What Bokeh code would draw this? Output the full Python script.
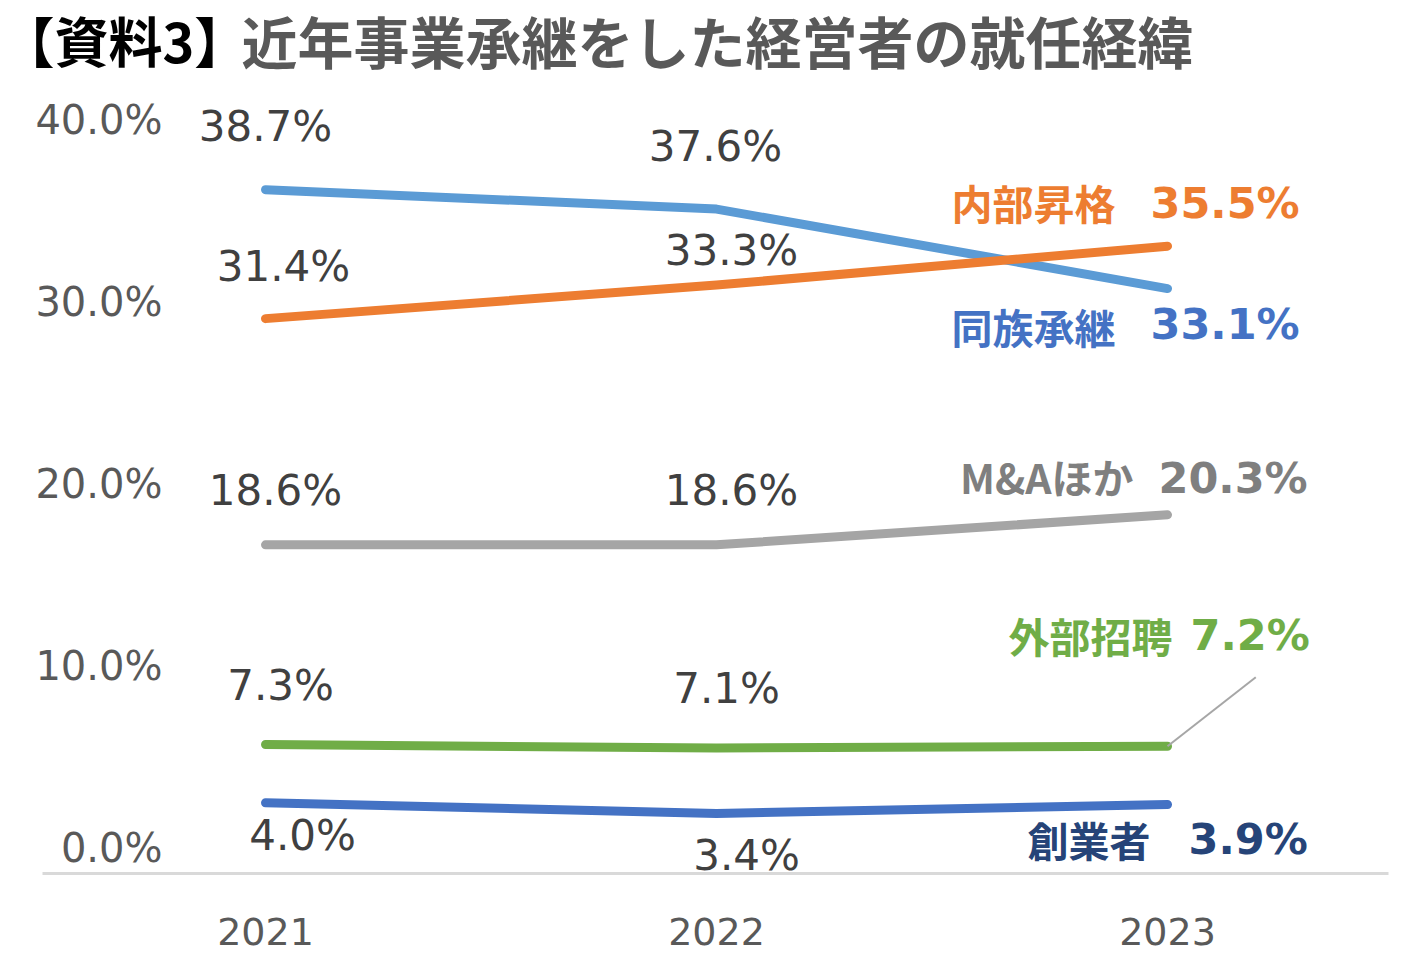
from bokeh.plotting import figure
from bokeh.layouts import column
from bokeh.models import Range1d, LinearAxis, FixedTicker, ColumnDataSource, CustomJSTickFormatter
from bokeh.core.properties import value
from bokeh.embed import file_html
from bokeh.resources import INLINE

# ---------------- data ----------------
years = [2021, 2022, 2023]
dozoku = [38.7, 37.6, 33.1]    # 同族承継
naibu = [31.4, 33.3, 35.5]     # 内部昇格
ma_hoka = [18.6, 18.6, 20.3]   # M&Aほか
gaibu = [7.3, 7.1, 7.2]        # 外部招聘
sogyo = [4.0, 3.4, 3.9]        # 創業者
series_names = ["同族承継", "内部昇格", "M&Aほか", "外部招聘", "創業者"]
y_ticks = [0, 10, 20, 30, 40]
title_tag = "【資料3】"
title_text = "近年事業承継をした経営者の就任経緯"

series_values = [dozoku, naibu, ma_hoka, gaibu, sogyo]

# ---------------- styles ----------------
line_colors = ["#5B9BD5", "#ED7D31", "#A5A5A5", "#70AD47", "#4472C4"]
name_colors = ["#4472C4", "#ED7D31", "#7F7F7F", "#70AD47", "#264478"]
# pixel offsets of the data labels (2021, 2022) from their points
lab_dx = [[0, -1], [18, 15], [10, 15], [15, 10], [37, 30]]
lab_dy = [[-63, -63], [-52, -35], [-54, -54], [-59, -60], [33, 42]]
# end labels: name (right aligned) and value (left aligned)
name_dx = [-52, -52, -34, 5, -17]
name_dy = [37, -44, -39, -111, 34]
num_dx = [-17, -17, -9, 23, 21]
num_dy = [35, -43, -37, -111, 34]

W = 1400
TH = 90

# ---------------- title strip ----------------
t = figure(frame_width=W, frame_height=TH, x_range=Range1d(0, W), y_range=Range1d(0, TH),
           title=None, output_backend="svg", toolbar_location=None,
           x_axis_location=None, y_axis_location=None,
           min_border_left=0, min_border_right=0, min_border_top=0, min_border_bottom=0)
t.frame_align = False
t.outline_line_color = None
t.xgrid.visible = False
t.ygrid.visible = False
t.text(x=[0], y=[TH - 38.5], text=[title_tag], text_font=value("Noto Sans CJK JP"),
       text_font_style="bold", text_font_size="54px", text_color="#000000",
       text_align="left", text_baseline="middle")
t.text(x=[241], y=[TH - 38.5], text=[title_text], text_font=value("Noto Sans CJK JP"),
       text_font_style="bold", text_font_size="56px", text_color="#595959",
       text_align="left", text_baseline="middle")

# ---------------- main chart ----------------
p = figure(width=W, height=870,
           x_range=Range1d(2020.5055, 2023.49), y_range=Range1d(0, 44.31),
           output_backend="svg", toolbar_location=None, y_axis_location=None,
           min_border_left=42, min_border_right=12, min_border_top=0, min_border_bottom=87)
p.frame_align = False
p.outline_line_color = None
p.xgrid.visible = False
p.ygrid.visible = False
p.background_fill_color = "white"
p.border_fill_color = "white"

xa = p.xaxis[0]
xa.ticker = FixedTicker(ticks=years)
xa.formatter = CustomJSTickFormatter(code="return tick.toFixed(0)")
xa.axis_line_color = "#D9D9D9"
xa.axis_line_width = 3
xa.major_tick_line_color = None
xa.minor_tick_line_color = None
xa.major_tick_in = 0
xa.major_tick_out = 0
xa.major_label_standoff = 44
xa.major_label_text_font = "DejaVu Sans"
xa.major_label_text_font_size = "38px"
xa.major_label_text_color = "#595959"

p.extra_y_ranges = {"tick": Range1d(-1.4305, 41.65)}
yax = LinearAxis(y_range_name="tick", ticker=FixedTicker(ticks=y_ticks),
                 formatter=CustomJSTickFormatter(code="return tick.toFixed(1) + '%'"),
                 axis_line_color=None, major_tick_line_color=None, minor_tick_line_color=None,
                 major_tick_in=0, major_tick_out=0, major_label_standoff=-120,
                 major_label_text_font="DejaVu Sans", major_label_text_font_size="40px",
                 major_label_text_color="#595959")
p.add_layout(yax, "left")

# lines
for vals, col in zip(series_values, line_colors):
    p.line(years, vals, line_color=col, line_width=9, line_cap="round", line_join="round")

# data labels for the first two years
xs, ys, ts, dxs, dys = [], [], [], [], []
for k, vals in enumerate(series_values):
    for j in range(2):
        xs.append(years[j]); ys.append(vals[j]); ts.append(f"{vals[j]:.1f}%")
        dxs.append(lab_dx[k][j]); dys.append(lab_dy[k][j])
src = ColumnDataSource(dict(x=xs, y=ys, text=ts, dx=dxs, dy=dys))
p.text(x="x", y="y", text="text", x_offset="dx", y_offset="dy", source=src,
       text_font=value("DejaVu Sans"), text_font_size="42px", text_color="#404040",
       text_align="center", text_baseline="middle")

# end labels
last_x = [years[-1]] * len(series_values)
last_y = [v[-1] for v in series_values]
src_n = ColumnDataSource(dict(x=last_x, y=last_y, text=series_names, dx=name_dx, dy=name_dy, c=name_colors))
p.text(x="x", y="y", text="text", x_offset="dx", y_offset="dy", text_color="c", source=src_n,
       text_font=value("Noto Sans CJK JP"), text_font_style="bold", text_font_size="41px",
       text_align="right", text_baseline="middle")
src_v = ColumnDataSource(dict(x=last_x, y=last_y, text=[f"{v:.1f}%" for v in last_y],
                              dx=num_dx, dy=num_dy, c=name_colors))
p.text(x="x", y="y", text="text", x_offset="dx", y_offset="dy", text_color="c", source=src_v,
       text_font=value("DejaVu Sans"), text_font_style="bold", text_font_size="43px",
       text_align="left", text_baseline="middle")

# leader line for 外部招聘
p.ray(x=[years[-1]], y=[gaibu[-1]], length=112, length_units="screen", angle=38, angle_units="deg",
      line_color="#A6A6A6", line_width=2)

layout = column(t, p, spacing=0)
open("out.html", "w").write(file_html(layout, INLINE))
